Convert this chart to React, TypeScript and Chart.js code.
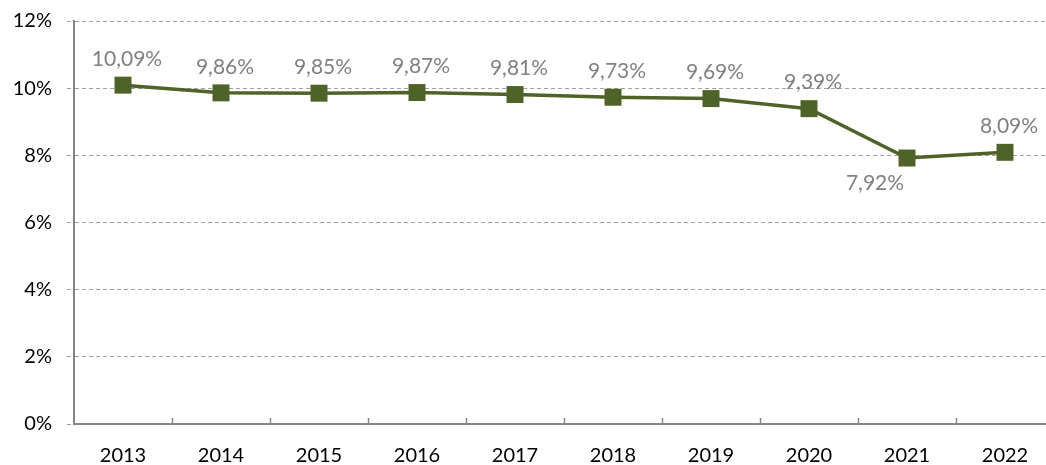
import React, { useEffect, useRef } from "react";
import { Chart, registerables } from "chart.js";

Chart.register(...registerables);

const categories = ["2013", "2014", "2015", "2016", "2017", "2018", "2019", "2020", "2021", "2022"];
const values = [10.09, 9.86, 9.85, 9.87, 9.81, 9.73, 9.69, 9.39, 7.92, 8.09];
const labelsBelow = ["2021"];
const yTicks = [0, 2, 4, 6, 8, 10, 12];

const LINE = "#4F6228";
const GRAY_TEXT = "#808080";
const AXIS = "#868686";
const GRID = "#A0A0A0";
const FONT = "Lato, 'Open Sans', sans-serif";

const fmt = (v: number) => v.toFixed(2).replace(".", ",") + "%";

const extras = {
  id: "extras",
  afterDatasetsDraw(chart: any) {
    const ctx = chart.ctx;
    const xs = chart.scales.x;
    const bottom = chart.chartArea.bottom;
    ctx.save();
    // upward category boundary ticks
    ctx.strokeStyle = AXIS;
    ctx.lineWidth = 1.5;
    for (let i = 1; i <= categories.length; i++) {
      const x = Math.round(xs.getPixelForValue(i - 0.5)) + 0.5;
      ctx.beginPath();
      ctx.moveTo(x, bottom);
      ctx.lineTo(x, bottom - 6);
      ctx.stroke();
    }
    // data labels
    const meta = chart.getDatasetMeta(0);
    ctx.font = `21px ${FONT}`;
    ctx.fillStyle = GRAY_TEXT;
    ctx.textAlign = "center";
    ctx.textBaseline = "middle";
    meta.data.forEach((pt: any, i: number) => {
      const below = labelsBelow.includes(categories[i]);
      const x = pt.x + (below ? -32 : 4);
      const y = pt.y + (below ? 25 : -26);
      ctx.fillText(fmt(values[i]), x, y);
    });
    ctx.restore();
  },
};

export default function App() {
  const ref = useRef<HTMLCanvasElement>(null);
  useEffect(() => {
    if (!ref.current) return;
    const chart = new Chart(ref.current, {
      type: "line",
      data: {
        labels: categories,
        datasets: [
          {
            data: values,
            borderColor: LINE,
            backgroundColor: LINE,
            borderWidth: 3.5,
            pointStyle: "rect",
            pointRadius: 12,
            pointHoverRadius: 12,
            pointBorderWidth: 0,
            tension: 0,
          },
        ],
      },
      options: {
        animation: false,
        responsive: true,
        maintainAspectRatio: false,
        layout: { padding: { top: 21, right: 11, bottom: 0, left: 0 } },
        plugins: { legend: { display: false }, tooltip: { enabled: false } },
        scales: {
          x: {
            offset: true,
            grid: { display: false, drawTicks: false },
            border: { display: true, color: AXIS, width: 2 },
            ticks: { color: "#000", font: { family: FONT, size: 20 }, padding: 20, maxRotation: 0 },
            afterFit: (s: any) => {
              s.height = 41;
              s.paddingLeft = 0;
              s.paddingRight = 0;
            },
          },
          y: {
            min: 0,
            max: 12,
            afterBuildTicks: (s: any) => {
              s.ticks = yTicks.map((v) => ({ value: v }));
            },
            grid: {
              color: (c: any) => (c.tick && c.tick.value === 0 ? "rgba(0,0,0,0)" : GRID),
              lineWidth: 1,
              drawTicks: true,
              tickLength: 7,
              tickColor: GRID,
              tickBorderDash: [4, 3],
            },
            border: { display: true, color: AXIS, width: 2, dash: [4, 3] },
            ticks: {
              color: "#000",
              font: { family: FONT, size: 20 },
              padding: 15,
              callback: (v: any) => v + "%",
            },
            afterFit: (s: any) => {
              s.width = 74;
              s.paddingTop = 0;
              s.paddingBottom = 0;
            },
          },
        },
      },
      plugins: [extras],
    });
    return () => chart.destroy();
  }, []);
  return (
    <div style={{ position: "fixed", left: 0, top: 0, width: 1046, height: 465, overflow: "hidden", background: "#fff" }}>
      <div style={{ position: "absolute", left: 0, top: 0, width: 1066, height: 465 }}>
        <canvas ref={ref} />
      </div>
    </div>
  );
}
